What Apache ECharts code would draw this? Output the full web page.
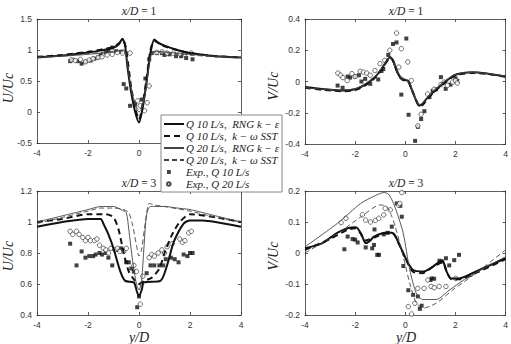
<!DOCTYPE html>
<html><head><meta charset="utf-8">
<script src="https://cdn.jsdelivr.net/npm/echarts@6/dist/echarts.min.js"></script>
<style>html,body{margin:0;padding:0;background:#fff}#c{width:511px;height:344px}</style>
</head><body><div id="c"></div>
<script>
// ---- tick settings ----
const X_TICKS = [-4, -2, 0, 2, 4];
const U1_TICKS = [-0.5, 0, 0.5, 1, 1.5];
const V1_TICKS = [-0.4, -0.2, 0, 0.2, 0.4];
const U3_TICKS = [0.4, 0.6, 0.8, 1, 1.2];
const V3_TICKS = [-0.2, -0.1, 0, 0.1, 0.2];

const NAMES = ['Q 10 L/s,  RNG k − ε', 'Q 10 L/s,  k − ω SST', 'Q 20 L/s,  RNG k − ε', 'Q 20 L/s,  k − ω SST', 'Exp., Q 10 L/s', 'Exp., Q 20 L/s'];

// ---- U/Uc at x/D = 1 ----
const U1_Q10_RNG = [[-4,0.88],[-3,0.91],[-2,0.96],[-1.5,0.99],[-1,1.04],[-0.8,1.09],[-0.65,1.18],[-0.55,1.08],[-0.45,0.72],[-0.3,0.3],[-0.15,0.0],[0,-0.17],[0.15,0.08],[0.3,0.5],[0.45,0.95],[0.6,1.17],[0.75,1.12],[1,1.07],[1.5,1.0],[2,0.95],[3,0.9],[4,0.88]];
const U1_Q10_SST = [[-4,0.89],[-3,0.92],[-2,0.97],[-1,1.05],[-0.75,1.12],[-0.62,1.15],[-0.52,1.05],[-0.42,0.75],[-0.3,0.38],[-0.15,0.06],[0,-0.12],[0.15,0.14],[0.3,0.55],[0.45,1.0],[0.6,1.15],[0.8,1.1],[1,1.06],[1.5,1.0],[2,0.95],[3,0.9],[4,0.88]];
const U1_Q20_RNG = [[-4,0.88],[-3,0.9],[-2,0.93],[-1,0.97],[-0.6,1.0],[-0.5,0.9],[-0.4,0.6],[-0.25,0.25],[-0.1,0.05],[0,0.0],[0.1,0.05],[0.25,0.3],[0.4,0.75],[0.5,0.95],[0.6,0.98],[1,0.97],[2,0.93],[3,0.9],[4,0.88]];
const U1_Q20_SST = [[-4,0.89],[-3,0.91],[-2,0.94],[-1,0.98],[-0.6,1.0],[-0.5,0.92],[-0.4,0.62],[-0.25,0.28],[-0.1,0.08],[0,0.03],[0.1,0.08],[0.25,0.35],[0.4,0.78],[0.5,0.96],[0.7,0.97],[1,0.96],[2,0.92],[3,0.89],[4,0.88]];
const U1_EXP10 = [[-2.7,0.82],[-2.6,0.84],[-2.4,0.82],[-2.25,0.78],[-2.1,0.81],[-1.9,0.83],[-1.75,0.86],[-1.6,0.88],[-1.5,0.92],[-1.3,0.96],[-1.2,0.99],[-1.05,1.04],[-0.9,0.98],[-0.7,0.97],[-0.6,0.45],[-0.5,0.38],[-0.35,0.1],[-0.15,0.13],[0.1,0.2],[0.25,0.54],[0.4,0.85],[0.5,0.95],[0.7,0.95],[0.9,0.95],[1.0,0.92],[1.2,0.93],[1.45,0.9],[1.65,0.9],[1.85,0.87],[2.1,0.85]];
const U1_EXP20 = [[-2.65,0.84],[-2.5,0.83],[-2.3,0.85],[-2.1,0.81],[-1.95,0.84],[-1.8,0.86],[-1.6,0.88],[-1.45,0.89],[-1.25,0.92],[-1.05,0.93],[-0.85,0.96],[-0.65,0.95],[-0.35,0.95],[-0.05,0.18],[0.05,0.1],[0.22,0.02],[0.32,0.15],[0.4,0.42],[0.7,0.96],[0.9,0.97],[1.1,0.95],[1.35,0.95],[1.6,0.94],[1.8,0.93],[2.05,0.95]];

// ---- V/Uc at x/D = 1 ----
const V1_Q10_RNG = [[-4,-0.035],[-3.2,-0.05],[-2.5,-0.058],[-2,-0.05],[-1.6,-0.02],[-1.2,0.03],[-0.95,0.08],[-0.75,0.13],[-0.62,0.155],[-0.5,0.135],[-0.35,0.07],[-0.2,0.025],[-0.05,0.01],[0.1,0.005],[0.25,-0.05],[0.4,-0.11],[0.55,-0.155],[0.7,-0.14],[0.85,-0.11],[1.1,-0.07],[1.3,-0.04],[1.6,0.0],[1.95,0.04],[2.3,0.055],[2.7,0.06],[3.3,0.05],[4,0.032]];
const V1_Q10_SST = [[-4,-0.04],[-3.2,-0.055],[-2.5,-0.062],[-2,-0.055],[-1.6,-0.025],[-1.2,0.025],[-0.95,0.075],[-0.75,0.125],[-0.6,0.15],[-0.48,0.13],[-0.33,0.065],[-0.18,0.02],[-0.03,0.005],[0.12,0.0],[0.27,-0.055],[0.42,-0.115],[0.57,-0.16],[0.72,-0.145],[0.87,-0.115],[1.1,-0.075],[1.3,-0.045],[1.6,-0.005],[1.95,0.035],[2.3,0.05],[2.7,0.055],[3.3,0.048],[4,0.03]];
const V1_Q20_RNG = [[-4,-0.04],[-3.2,-0.052],[-2.5,-0.055],[-2,-0.045],[-1.6,-0.015],[-1.2,0.035],[-0.95,0.085],[-0.75,0.135],[-0.6,0.16],[-0.47,0.14],[-0.32,0.075],[-0.17,0.03],[0,0.015],[0.15,0.0],[0.3,-0.06],[0.45,-0.12],[0.6,-0.15],[0.75,-0.13],[0.9,-0.1],[1.1,-0.065],[1.3,-0.035],[1.6,0.005],[1.95,0.042],[2.3,0.055],[2.7,0.058],[3.3,0.05],[4,0.033]];
const V1_Q20_SST = [[-4,-0.038],[-3.2,-0.05],[-2.5,-0.056],[-2,-0.048],[-1.6,-0.018],[-1.2,0.032],[-0.95,0.082],[-0.75,0.132],[-0.63,0.152],[-0.5,0.13],[-0.35,0.068],[-0.2,0.022],[-0.05,0.008],[0.1,0.002],[0.25,-0.052],[0.4,-0.112],[0.55,-0.15],[0.7,-0.138],[0.85,-0.108],[1.1,-0.068],[1.3,-0.038],[1.6,0.002],[1.95,0.04],[2.3,0.056],[2.7,0.06],[3.3,0.051],[4,0.033]];
const V1_EXP10 = [[-2.7,-0.026],[-2.5,-0.04],[-2.3,0.032],[-2.2,0.025],[-2.0,0.032],[-1.85,0.04],[-1.75,0.0],[-1.6,0.017],[-1.4,-0.015],[-1.08,0.013],[-0.95,0.067],[-0.88,0.08],[-0.68,0.17],[-0.49,0.24],[-0.35,0.25],[-0.16,-0.084],[0.04,0.275],[0.13,-0.213],[0.39,-0.38],[0.5,-0.29],[0.63,-0.24],[0.76,-0.19],[0.96,-0.1],[1.09,-0.06],[1.22,-0.05],[1.42,0.028],[1.61,-0.047],[1.8,-0.02],[2.0,0.02],[2.07,0.005]];
const V1_EXP20 = [[-2.69,0.054],[-2.58,0.04],[-2.49,0.025],[-2.32,0.006],[-2.13,0.05],[-2.0,0.032],[-1.8,0.065],[-1.67,0.06],[-1.54,0.054],[-1.4,0.04],[-1.21,0.07],[-1.01,0.114],[-0.82,0.135],[-0.62,0.2],[-0.35,0.31],[-0.26,0.092],[-0.16,0.21],[0.1,0.125],[0.24,0.006],[0.5,-0.284],[0.63,-0.21],[0.89,-0.08],[1.15,-0.05],[1.42,-0.02],[1.55,-0.004],[1.68,-0.025],[1.88,-0.004],[2.0,0.006],[2.07,-0.01]];

// ---- U/Uc at x/D = 3 ----
const U3_Q10_RNG = [[-4,0.97],[-3,1.0],[-2,1.02],[-1.5,1.02],[-1.4,0.99],[-1.2,0.92],[-1.0,0.83],[-0.73,0.68],[-0.54,0.62],[-0.2,0.61],[-0.08,0.55],[0,0.52],[0.12,0.57],[0.18,0.61],[0.84,0.62],[1.1,0.72],[1.36,0.87],[1.75,0.99],[2,1.01],[2.5,1.01],[3,1.0],[4,0.97]];
const U3_Q10_SST = [[-4,1.0],[-3,1.02],[-2,1.05],[-1.3,1.05],[-1.0,1.03],[-0.8,0.95],[-0.6,0.8],[-0.4,0.68],[-0.2,0.63],[0,0.6],[0.2,0.62],[0.5,0.64],[0.8,0.7],[1.0,0.8],[1.3,0.92],[1.6,1.0],[2,1.05],[3,1.03],[4,1.0]];
const U3_Q20_RNG = [[-4,1.0],[-3,1.04],[-2,1.08],[-1.5,1.1],[-1,1.1],[-0.7,1.08],[-0.5,1.06],[-0.4,0.95],[-0.25,0.75],[-0.1,0.6],[0,0.56],[0.1,0.62],[0.2,0.85],[0.3,1.05],[0.45,1.1],[0.6,1.1],[1,1.1],[1.5,1.09],[2,1.08],[3,1.04],[4,1.0]];
const U3_Q20_SST = [[-4,0.99],[-3,1.03],[-2,1.07],[-1.5,1.09],[-1,1.09],[-0.6,1.08],[-0.4,1.06],[-0.25,0.98],[-0.1,0.85],[0,0.78],[0.1,0.82],[0.25,1.0],[0.4,1.12],[0.6,1.11],[1,1.1],[2,1.07],[3,1.03],[4,1.0]];
const U3_EXP10 = [[-2.7,0.86],[-2.45,0.72],[-2.25,0.81],[-2.1,0.77],[-1.95,0.78],[-1.8,0.78],[-1.7,0.79],[-1.55,0.8],[-1.45,0.79],[-1.3,0.8],[-1.2,0.77],[-1.05,0.72],[-0.85,0.82],[-0.7,0.83],[-0.62,0.82],[-0.5,0.74],[-0.4,0.74],[-0.3,0.7],[-0.2,0.68],[0,0.52],[-0.07,0.45],[0.3,0.67],[0.45,0.72],[0.6,0.72],[0.8,0.72],[0.95,0.72],[1.05,0.76],[1.25,0.77],[1.4,0.76],[1.55,0.74],[1.75,0.79],[1.9,0.78],[2.0,0.8],[2.1,0.8]];
const U3_EXP20 = [[-2.7,0.94],[-2.6,0.92],[-2.45,0.94],[-2.35,0.92],[-2.2,0.9],[-2.1,0.88],[-2.0,0.9],[-1.9,0.88],[-1.75,0.88],[-1.65,0.89],[-1.55,0.85],[-1.4,0.83],[-1.3,0.82],[-1.2,0.8],[-1.1,0.83],[-0.95,0.82],[-0.85,0.83],[-0.75,0.81],[-0.6,0.81],[-0.5,0.83],[-0.2,0.72],[-0.1,0.68],[0.05,0.47],[0.1,0.6],[0.15,0.65],[0.4,0.77],[0.5,0.79],[0.6,0.78],[0.75,0.8],[0.9,0.82],[1.0,0.8],[1.1,0.84],[1.3,0.86],[1.6,0.89],[1.7,0.87],[1.8,0.88],[1.95,0.93],[2.05,0.94]];

// ---- V/Uc at x/D = 3 ----
const V3_Q10_RNG = [[-4,0.015],[-3.35,0.03],[-2.7,0.066],[-2.3,0.08],[-1.97,0.083],[-1.75,0.06],[-1.58,0.032],[-1.4,0.04],[-1.25,0.053],[-0.73,0.066],[-0.47,0.063],[-0.2,0.02],[0.05,-0.023],[0.31,-0.055],[0.7,-0.06],[1.1,-0.044],[1.36,-0.028],[1.49,-0.025],[1.62,-0.055],[1.82,-0.082],[2.14,-0.082],[2.8,-0.06],[4,-0.017]];
const V3_Q10_SST = [[-4,0.01],[-3,0.045],[-2.3,0.075],[-2,0.08],[-1.8,0.065],[-1.6,0.04],[-1.25,0.05],[-0.7,0.065],[-0.45,0.06],[-0.2,0.02],[0.05,-0.025],[0.3,-0.06],[0.7,-0.065],[1.1,-0.045],[1.5,-0.03],[1.65,-0.06],[1.85,-0.085],[2.2,-0.085],[2.8,-0.065],[4,-0.02]];
const V3_Q20_RNG = [[-4,0.02],[-2.7,0.096],[-1.78,0.16],[-1.2,0.185],[-0.86,0.195],[-0.67,0.19],[-0.47,0.16],[-0.25,0.11],[-0.08,0.063],[0.18,-0.055],[0.44,-0.13],[0.7,-0.15],[1.23,-0.15],[1.75,-0.12],[2.54,-0.076],[4,-0.012]];
const V3_Q20_SST = [[-4,0.0],[-2.7,0.063],[-1.78,0.116],[-1.0,0.155],[-0.73,0.15],[-0.55,0.12],[-0.4,0.085],[-0.08,-0.012],[0.18,-0.098],[0.44,-0.162],[0.7,-0.178],[1.23,-0.162],[1.88,-0.12],[2.8,-0.066],[4,0.01]];
const V3_EXP10 = [[-2.43,0.012],[-2.3,0.053],[-2.1,0.045],[-2.0,0.043],[-1.9,0.034],[-1.58,0.018],[-1.32,0.015],[-1.25,0.026],[-1.12,-0.006],[-1.05,-0.006],[-1.23,0.076],[-0.86,0.06],[-0.7,0.065],[-0.54,0.085],[-0.34,0.16],[-0.2,0.152],[-0.14,0.117],[-0.08,-0.042],[0.12,-0.12],[0.31,-0.135],[0.5,-0.14],[0.58,-0.18],[0.65,-0.17],[1.0,-0.087],[1.05,-0.082],[1.15,-0.083],[1.36,-0.025],[1.45,-0.027],[1.62,-0.017],[1.75,-0.04],[1.95,-0.023],[2.14,-0.006]];
const V3_EXP20 = [[-2.56,0.098],[-2.37,0.112],[-1.71,0.123],[-1.58,0.106],[-1.39,0.1],[-1.2,0.105],[-1.06,0.112],[-0.86,0.123],[-0.8,0.144],[-0.6,0.139],[-0.27,0.155],[-0.22,0.16],[-0.14,0.195],[0.12,-0.173],[0.25,-0.197],[0.38,-0.162],[0.5,-0.114],[0.75,-0.114],[0.9,-0.087],[1.03,-0.108],[1.15,-0.112],[1.35,-0.108],[1.62,-0.108],[2.01,-0.082]];

const PANELS = [
  {grid:{left:37,top:19,width:204,height:124}, yt:U1_TICKS, lines:[U1_Q10_RNG,U1_Q10_SST,U1_Q20_RNG,U1_Q20_SST], exp:[U1_EXP10,U1_EXP20], hideXAbove:1},
  {grid:{left:305,top:19,width:203,height:125}, yt:V1_TICKS, lines:[V1_Q10_RNG,V1_Q10_SST,V1_Q20_RNG,V1_Q20_SST], exp:[V1_EXP10,V1_EXP20]},
  {grid:{left:37,top:191,width:204,height:124}, yt:U3_TICKS, lines:[U3_Q10_RNG,U3_Q10_SST,U3_Q20_RNG,U3_Q20_SST], exp:[U3_EXP10,U3_EXP20]},
  {grid:{left:305,top:191,width:203,height:124}, yt:V3_TICKS, lines:[V3_Q10_RNG,V3_Q10_SST,V3_Q20_RNG,V3_Q20_SST], exp:[V3_EXP10,V3_EXP20]}
];

const LINE_STYLES = [
  {color:'#111', width:2, type:'solid'},
  {color:'#111', width:2, type:[6,4]},
  {color:'#444', width:0.9, type:'solid'},
  {color:'#444', width:0.9, type:[5,3]}
];

const AX_COL = '#333';
const labelStyle = {fontFamily:'Liberation Sans, Arial, sans-serif', fontSize:8.5, color:'#333'};

const grids = [], xAxes = [], yAxes = [], series = [];
PANELS.forEach((p, i) => {
  grids.push(Object.assign({containLabel:false}, p.grid));
  const xmin = X_TICKS[0], xmax = X_TICKS[X_TICKS.length-1], xint = X_TICKS[1]-X_TICKS[0];
  const ymin = p.yt[0], ymax = p.yt[p.yt.length-1], yint = +(p.yt[1]-p.yt[0]).toFixed(3);
  const common = {axisLine:{show:true,onZero:false,lineStyle:{color:AX_COL,width:0.8}}, axisTick:{show:true,inside:true,length:3,lineStyle:{color:AX_COL,width:0.8}}, splitLine:{show:false}};
  const hx = p.hideXAbove;
  xAxes.push(Object.assign({type:'value', gridIndex:i, min:xmin, max:xmax, interval:xint, position:'bottom',
    axisLabel:Object.assign({margin:5, formatter: v => (hx !== undefined && v > hx) ? '' : String(v)}, labelStyle)}, common));
  yAxes.push(Object.assign({type:'value', gridIndex:i, min:ymin, max:ymax, interval:yint, position:'left', axisLabel:Object.assign({margin:5}, labelStyle)}, common));
});
PANELS.forEach((p, i) => {
  const xmin = X_TICKS[0], xmax = X_TICKS[X_TICKS.length-1], xint = X_TICKS[1]-X_TICKS[0];
  const ymin = p.yt[0], ymax = p.yt[p.yt.length-1], yint = +(p.yt[1]-p.yt[0]).toFixed(3);
  const common = {axisLine:{show:true,onZero:false,lineStyle:{color:AX_COL,width:0.8}}, axisTick:{show:true,inside:true,length:3,lineStyle:{color:AX_COL,width:0.8}}, splitLine:{show:false}, axisLabel:{show:false}};
  xAxes.push(Object.assign({type:'value', gridIndex:i, min:xmin, max:xmax, interval:xint, position:'top'}, common));
  yAxes.push(Object.assign({type:'value', gridIndex:i, min:ymin, max:ymax, interval:yint, position:'right'}, common));
});

PANELS.forEach((p, i) => {
  p.exp.forEach((d, k) => {
    series.push({
      name: NAMES[4+k], type:'scatter', xAxisIndex:i, yAxisIndex:i, data:d, z:3,
      symbol: k===0 ? 'rect' : 'circle', symbolSize: k===0 ? 4 : 4.5,
      itemStyle: k===0 ? {color:'#111'} : {color:'#fff', borderColor:'#222', borderWidth:0.8}
    });
  });
  p.lines.forEach((d, k) => {
    const ls = LINE_STYLES[k];
    series.push({
      name: NAMES[k], type:'line', xAxisIndex:i, yAxisIndex:i, data:d, z:4,
      symbol:'none', smooth:0.25, color:ls.color,
      lineStyle:{color:ls.color, width:ls.width, type:ls.type}
    });
  });
});

const serif = 'Liberation Serif, DejaVu Serif, serif';
function titleText(x, y, t) {
  return {type:'text', x:x, y:y, style:{text:'{i|x/D} = ' + t, align:'center', verticalAlign:'middle', fill:'#222', font:'11.5px ' + serif, rich:{i:{fontStyle:'italic', fontFamily:serif, fontSize:11.5, fill:'#222'}}}};
}
function vText(x, y, t) {
  return {type:'text', x:x, y:y, rotation:Math.PI/2, style:{text:t, align:'center', verticalAlign:'middle', fill:'#222', font:'italic 14px ' + serif}};
}

// legend marker icons (small marker at the left of the icon box)
const SQ_ICON = 'path://M0 0L0.01 0M3 0.6L6.8 0.6L6.8 4.4L3 4.4ZM20 5L19.99 5';
const CI_ICON = 'path://M0 0L0.01 0M3 2.5A1.8 1.8 0 1 0 6.6 2.5A1.8 1.8 0 1 0 3 2.5ZM20 5L19.99 5';
const HIDE = {color:'rgba(0,0,0,0)', borderColor:'rgba(0,0,0,0)', borderWidth:0};

const chart = echarts.init(document.getElementById('c'), null, {renderer:'svg'});
chart.setOption({
  animation:false,
  backgroundColor:'#fff',
  grid:grids, xAxis:xAxes, yAxis:yAxes, series:series,
  legend:{
    data:NAMES.map((n, k) => k < 4 ? {name:n, itemStyle:HIDE} : {name:n, icon: k===4 ? SQ_ICON : CI_ICON}),
    orient:'vertical', left:161, top:115,
    backgroundColor:'#fff', borderColor:'#888', borderWidth:1,
    padding:[3,3,2,2], itemGap:0, itemWidth:20, itemHeight:5,
    selectedMode:false, z:10,
    textStyle:{fontFamily:serif, fontStyle:'italic', fontSize:11, lineHeight:12, color:'#222', padding:[0,0,0,-3]}
  },
  graphic:[
    titleText(139, 11, '1'), titleText(406, 11, '1'),
    titleText(139, 183, '3'), titleText(406, 183, '3'),
    vText(8, 88, 'U/Uc'), vText(273, 86, 'V/Uc'),
    vText(8, 256, 'U/Uc'), vText(273, 256, 'V/Uc'),
    {type:'text', x:139, y:337, style:{text:'y/D', align:'center', verticalAlign:'middle', fill:'#222', font:'italic 14px ' + serif}},
    {type:'text', x:406, y:337, style:{text:'y/D', align:'center', verticalAlign:'middle', fill:'#222', font:'italic 14px ' + serif}}
  ]
});
</script></body></html>
